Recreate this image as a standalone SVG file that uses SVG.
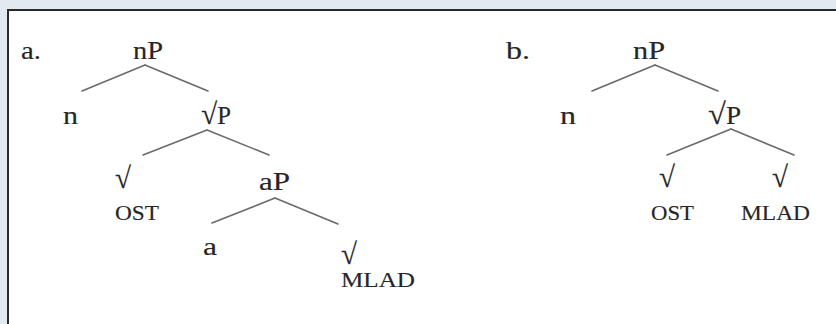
<svg xmlns="http://www.w3.org/2000/svg" width="836" height="324" viewBox="0 0 836 324">
<style>
.lbl{font-family:"Liberation Serif","Times New Roman",serif;font-size:25px;fill:#262626;stroke:#262626;stroke-width:0.15}
.sm{font-size:22px}
.rt{font-size:30px}
.edge{stroke:#6a6a6a;stroke-width:1.6;fill:none;stroke-linecap:round}
</style>
<rect x="0" y="0" width="836" height="324" fill="#e3e9f0"/>
<rect x="8" y="10" width="840" height="330" fill="#ffffff" stroke="#2a2a2a" stroke-width="2"/>
<g id="labels">
<text class="lbl" x="21" y="59" textLength="20" lengthAdjust="spacingAndGlyphs">a.</text>
<text class="lbl" x="506" y="59" textLength="24" lengthAdjust="spacingAndGlyphs">b.</text>
</g>
<g id="connectors">
<line class="edge" x1="145" y1="65" x2="82" y2="91"/>
<line class="edge" x1="145" y1="65" x2="208" y2="91"/>
<line class="edge" x1="207" y1="130" x2="143" y2="155"/>
<line class="edge" x1="207" y1="130" x2="269" y2="155"/>
<line class="edge" x1="275" y1="198" x2="212" y2="223"/>
<line class="edge" x1="275" y1="198" x2="338" y2="224"/>
<line class="edge" x1="655" y1="65" x2="592" y2="91"/>
<line class="edge" x1="655" y1="65" x2="718" y2="91"/>
<line class="edge" x1="731" y1="129" x2="667" y2="155"/>
<line class="edge" x1="731" y1="129" x2="794" y2="155"/>
</g>
<g id="a-nP"><text class="lbl" x="133" y="59" textLength="30" lengthAdjust="spacingAndGlyphs">nP</text></g>
<g id="a-n"><text class="lbl" x="63" y="124" textLength="15" lengthAdjust="spacingAndGlyphs">n</text></g>
<g id="a-rootP"><text class="lbl" x="201" y="124" textLength="30" lengthAdjust="spacingAndGlyphs"><tspan class="rt">√</tspan>P</text></g>
<g id="a-root1"><text class="lbl rt" x="115" y="188" textLength="16" lengthAdjust="spacingAndGlyphs">√</text><text class="lbl sm" x="115" y="220" textLength="44" lengthAdjust="spacingAndGlyphs">OST</text></g>
<g id="a-aP"><text class="lbl" x="259" y="190" textLength="31" lengthAdjust="spacingAndGlyphs">aP</text></g>
<g id="a-a"><text class="lbl" x="203" y="255" textLength="14" lengthAdjust="spacingAndGlyphs">a</text></g>
<g id="a-root2"><text class="lbl rt" x="341" y="264" textLength="16" lengthAdjust="spacingAndGlyphs">√</text><text class="lbl sm" x="341" y="287" textLength="74" lengthAdjust="spacingAndGlyphs">MLAD</text></g>
<g id="b-nP"><text class="lbl" x="633" y="59" textLength="32" lengthAdjust="spacingAndGlyphs">nP</text></g>
<g id="b-n"><text class="lbl" x="560" y="124" textLength="16" lengthAdjust="spacingAndGlyphs">n</text></g>
<g id="b-rootP"><text class="lbl" x="708" y="124" textLength="33" lengthAdjust="spacingAndGlyphs"><tspan class="rt">√</tspan>P</text></g>
<g id="b-root1"><text class="lbl rt" x="659" y="187" textLength="16" lengthAdjust="spacingAndGlyphs">√</text><text class="lbl sm" x="651" y="220" textLength="43" lengthAdjust="spacingAndGlyphs">OST</text></g>
<g id="b-root2"><text class="lbl rt" x="772" y="187" textLength="16" lengthAdjust="spacingAndGlyphs">√</text><text class="lbl sm" x="741" y="220" textLength="69" lengthAdjust="spacingAndGlyphs">MLAD</text></g>
</svg>
